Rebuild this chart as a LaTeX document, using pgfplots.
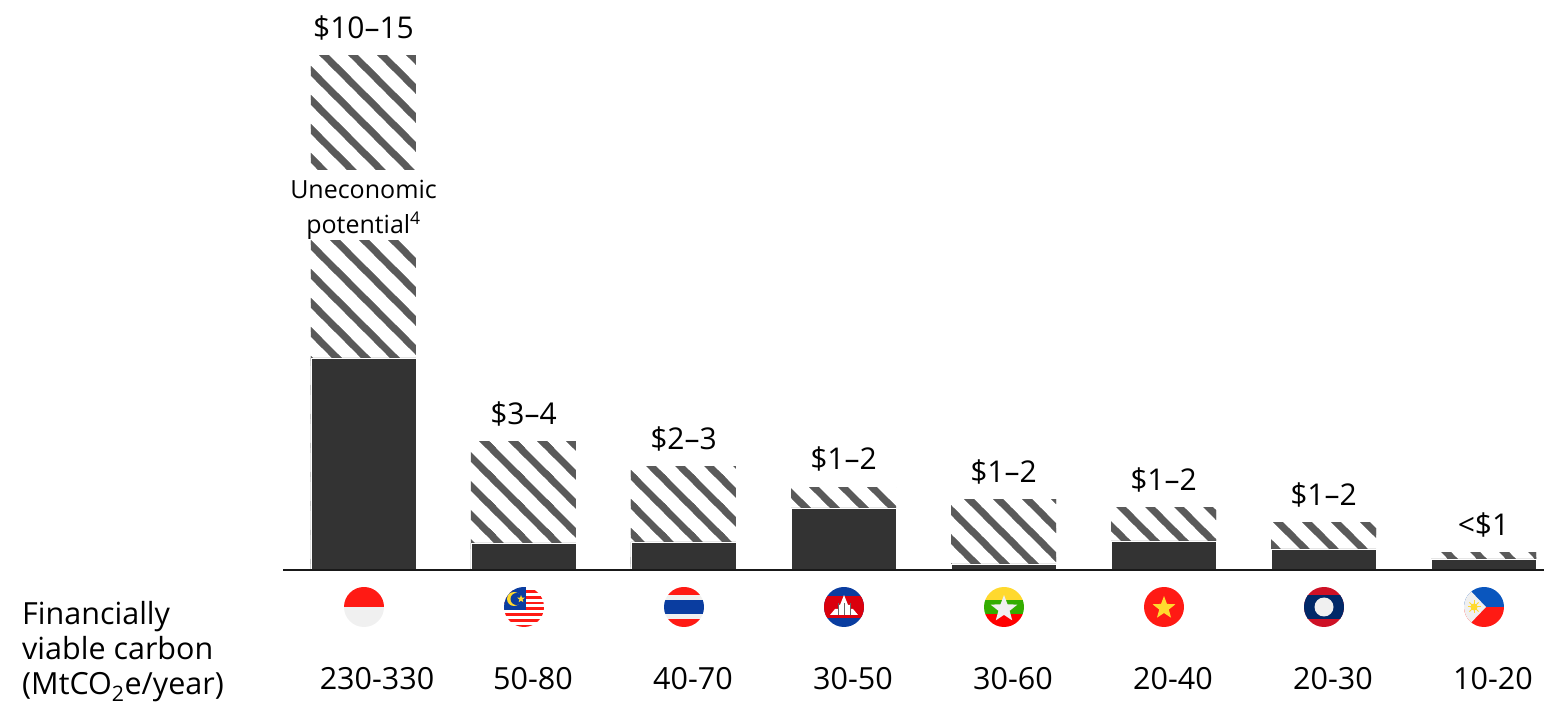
\documentclass[border=0pt]{standalone}
\usepackage{fontspec}
\setmainfont{Open Sans}
\usepackage{pgfplots}
\pgfplotsset{compat=1.18}
\usetikzlibrary{patterns}
\definecolor{darkbar}{HTML}{333333}
\definecolor{hatch}{HTML}{5A5A5A}
\definecolor{fred}{HTML}{FF1A14}
\definecolor{fwhite}{HTML}{F0F0F0}
\definecolor{fblue}{HTML}{0A3DA0}
\definecolor{fyellow}{HTML}{FFD92E}
\newcommand{\hl}[1]{\pgfpathmoveto{\pgfpoint{-10pt}{(#1)*1pt+10pt}}\pgfpathlineto{\pgfpoint{(#1)*1pt+10pt}{-10pt}}}
\newcommand{\declhatch}[2]{\pgfdeclarepatternformonly{#1}{\pgfqpoint{-3pt}{-3pt}}{\pgfqpoint{32pt}{32pt}}{\pgfqpoint{29pt}{29pt}}{%
  \pgfsetlinewidth{7pt}\hl{#2-29}\hl{#2}\hl{#2+29}\hl{#2+58}\pgfusepath{stroke}}}
\declhatch{hatchA}{18}
\declhatch{hatchB}{24}
\declhatch{hatchC}{21}
\declhatch{hatchD}{18}
\declhatch{hatchE}{16}
\declhatch{hatchF}{15}
\declhatch{hatchG}{12}
\declhatch{hatchH}{5}
\newcommand{\flagclip}[1]{\clip (#1,99) circle (20pt);}
\newcommand{\starshape}[4]{% x y r colour
  \fill[#4,shift={(#1pt,#2pt)}] (90:#3pt)--(126:0.42*#3pt)--(162:#3pt)--(198:0.42*#3pt)--(234:#3pt)--(270:0.42*#3pt)--(306:#3pt)--(342:0.42*#3pt)--(18:#3pt)--(54:0.42*#3pt)--cycle;}
\begin{document}
\begin{tikzpicture}[x=1pt,y=1pt]
\useasboundingbox (0,0) rectangle (1544,706);
\begin{axis}[
  at={(283pt,136pt)},anchor=south west,
  scale only axis,width=1261pt,height=570pt,
  xmin=-0.503,xmax=7.378,ymin=0,ymax=570,
  clip=false,axis on top,
  ybar,bar shift=0pt,bar width=105pt,
  axis x line=bottom,axis y line=none,
  x axis line style={-,line width=2pt,color=black!90},
  xtick={0,...,7},
  xticklabels={\hspace{8pt}230-330,50-80,40-70,30-50,30-60,20-40,20-30,10-20},
  major tick length=0pt,
  xticklabel style={anchor=base,yshift=-119pt,xshift=9.5pt,font=\fontsize{30.5}{36}\selectfont},
]
% hatched bars: full height (financially viable + uneconomic potential)
\addplot[draw=none,pattern=hatchA,pattern color=hatch] coordinates {(0,514.5)};
\addplot[draw=none,pattern=hatchB,pattern color=hatch] coordinates {(1,128.5)};
\addplot[draw=none,pattern=hatchC,pattern color=hatch] coordinates {(2,103.5)};
\addplot[draw=none,pattern=hatchD,pattern color=hatch] coordinates {(3,82.5)};
\addplot[draw=none,pattern=hatchE,pattern color=hatch] coordinates {(4,70.5)};
\addplot[draw=none,pattern=hatchF,pattern color=hatch] coordinates {(5,62.5)};
\addplot[draw=none,pattern=hatchG,pattern color=hatch] coordinates {(6,47.5)};
\addplot[draw=none,pattern=hatchH,pattern color=hatch] coordinates {(7,17.5)};
% financially viable part
\addplot[fill=darkbar,draw=white,line width=0.7pt] coordinates {(0,212)(1,27)(2,28)(3,62)(4,6)(5,29)(6,21)(7,11)};
\node[font=\fontsize{30}{36}\selectfont] at (axis cs:0,542) {\$10–15};
\node[font=\fontsize{30}{36}\selectfont] at (axis cs:1,156) {\$3–4};
\node[font=\fontsize{30}{36}\selectfont] at (axis cs:2,131) {\$2–3};
\node[font=\fontsize{30}{36}\selectfont] at (axis cs:3,111) {\$1–2};
\node[font=\fontsize{30}{36}\selectfont] at (axis cs:4,98) {\$1–2};
\node[font=\fontsize{30}{36}\selectfont] at (axis cs:5,90) {\$1–2};
\node[font=\fontsize{30}{36}\selectfont] at (axis cs:6,75) {\$1–2};
\node[font=\fontsize{30}{36}\selectfont] at (axis cs:7,45) {<\$1};
\end{axis}
% Label over the Indonesia bar
\fill[white] (310,466) rectangle (417,536);
\node[align=center,inner sep=0pt,font=\fontsize{25}{35}\selectfont] at (363.5,496) {Uneconomic\\potential\textsuperscript{4}};
% left caption
\node[anchor=base west,inner sep=0pt,font=\fontsize{30.5}{36}\selectfont] at (22,81) {Financially};
\node[anchor=base west,inner sep=0pt,font=\fontsize{30.5}{36}\selectfont] at (22,46) {viable carbon};
\node[anchor=base west,inner sep=0pt,font=\fontsize{30.5}{36}\selectfont] at (22,11) {(MtCO\textsubscript{2}e/year)};
% Indonesia
\begin{scope}\flagclip{364}
\fill[fred] (344,99) rectangle (384,119);\fill[fwhite] (344,79) rectangle (384,99);
\end{scope}
% Malaysia
\begin{scope}\flagclip{524}
\fill[white] (504,79) rectangle (544,119);
\foreach \k in {0,...,6}{\fill[fred] (504,{116-\k*5.8}) rectangle (544,{113.1-\k*5.8});}
\fill[fblue] (504,96) rectangle (526,119);
\fill[fyellow] (514,107) circle (7pt);\fill[fblue] (516.5,107) circle (6pt);
\starshape{521}{107}{4}{fyellow}
\end{scope}
% Thailand
\begin{scope}\flagclip{684}
\fill[fwhite] (664,79) rectangle (704,119);
\fill[fred] (664,111) rectangle (704,119);\fill[fred] (664,79) rectangle (704,87);
\fill[fblue] (664,92) rectangle (704,106);
\end{scope}
% Cambodia
\begin{scope}\flagclip{844}
\fill[fblue] (824,79) rectangle (864,119);
\fill[red!90!black!95!blue] (824,88) rectangle (864,110);
\fill[white] (830,91)--(858,91)--(853,97)--(850,97)--(850,101)--(848,101)--(846,106)--(844,111)--(842,106)--(840,101)--(838,101)--(838,97)--(835,97)--cycle;
\foreach \xx in {838,844,850}{\draw[black!60,line width=0.7pt] (\xx,91)--(\xx,103);}
\end{scope}
% Myanmar
\begin{scope}\flagclip{1004}
\fill[fyellow] (984,106) rectangle (1024,119);
\fill[green!60!black!80!yellow] (984,92) rectangle (1024,106);
\fill[red] (984,79) rectangle (1024,92);
\starshape{1004}{97}{14}{fwhite}
\end{scope}
% Vietnam
\begin{scope}\flagclip{1164}
\fill[fred] (1144,79) rectangle (1184,119);
\starshape{1164}{98}{12}{fyellow}
\end{scope}
% Laos
\begin{scope}\flagclip{1324}
\definecolor{laored}{HTML}{CE1126}\definecolor{laoblue}{HTML}{002868}
\fill[laored] (1304,79) rectangle (1344,119);
\fill[laoblue] (1304,87) rectangle (1344,111);
\fill[fwhite] (1324,99) circle (9.5pt);
\end{scope}
% Philippines
\begin{scope}\flagclip{1484}
\definecolor{phblue}{HTML}{0A56BE}
\fill[phblue] (1464,99) rectangle (1504,119);
\fill[fred] (1464,79) rectangle (1504,99);
\fill[fwhite] (1464,122)--(1486,99)--(1464,76)--cycle;
\fill[fyellow] (1474,99) circle (3.5pt);
\foreach \a in {0,45,...,315}{\draw[fyellow,line width=1pt] (1474,99)--++(\a:6.5);}
\end{scope}
\end{tikzpicture}
\end{document}
